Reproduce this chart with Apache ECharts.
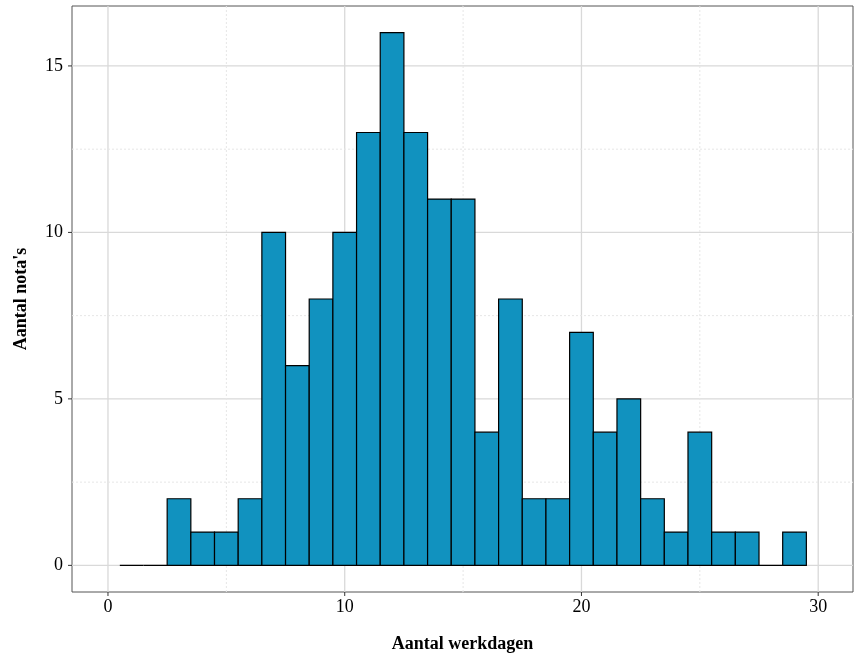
<!DOCTYPE html>
<html><head><meta charset="utf-8">
<script src="https://cdn.jsdelivr.net/npm/echarts@6/dist/echarts.min.js"></script>
<style>html,body{margin:0;padding:0;background:#fff}#c{width:864px;height:663px}</style>
</head><body><div id="c"></div>
<script>
const binCenters = [1,2,3,4,5,6,7,8,9,10,11,12,13,14,15,16,17,18,19,20,21,22,23,24,25,26,27,28,29];
const counts     = [0,0,2,1,1,2,10,6,8,10,13,16,13,11,11,4,8,2,2,7,4,5,2,1,4,1,1,0,1];
const xTicks = [0,10,20,30];
const yTicks = [0,5,10,15];
const xMinor = [5,15,25];
const yMinor = [2.5,7.5,12.5];
const binWidth = 1;

const FONT = '"Liberation Serif", "DejaVu Serif", serif';
const chart = echarts.init(document.getElementById('c'));

// kind: 0 = vertical line at x, 1 = horizontal line at y; minor flag
function gridItem(params, api) {
  const cs = params.coordSys;
  const kind = api.value(0), v = api.value(1), minor = api.value(2);
  const children = [];
  const major = {stroke:'#d9d9d9', lineWidth:1.3};
  const mnr = {stroke:'#e6e6e6', lineWidth:1, lineDash:[2,2]};
  if (kind === 0) {
    const p = api.coord([v, 0]);
    children.push({type:'line', shape:{x1:p[0], y1:cs.y, x2:p[0], y2:cs.y+cs.height}, style: minor ? mnr : major});
    if (!minor) children.push({type:'line', shape:{x1:p[0], y1:cs.y+cs.height, x2:p[0], y2:cs.y+cs.height+4}, style:{stroke:'#333', lineWidth:1}});
  } else {
    const p = api.coord([0, v]);
    children.push({type:'line', shape:{x1:cs.x, y1:p[1], x2:cs.x+cs.width, y2:p[1]}, style: minor ? mnr : major});
    if (!minor) children.push({type:'line', shape:{x1:cs.x-4, y1:p[1], x2:cs.x, y2:p[1]}, style:{stroke:'#333', lineWidth:1}});
  }
  return {type:'group', children, silent:true};
}
const gridData = [];
xTicks.forEach(v=>gridData.push([0,v,0])); yTicks.forEach(v=>gridData.push([1,v,0]));
xMinor.forEach(v=>gridData.push([0,v,1])); yMinor.forEach(v=>gridData.push([1,v,1]));

chart.setOption({
  animation:false,
  grid:{left:72, right:11, top:6, bottom:71, show:true, borderColor:'#555', borderWidth:1, backgroundColor:'#fff', containLabel:false, outerBoundsMode:'none'},
  xAxis:{type:'value', min:-1.52, max:31.47,
    name:'Aantal werkdagen', nameLocation:'middle', nameGap:43,
    nameTextStyle:{fontFamily:FONT, fontSize:18, fontWeight:'bold', color:'#000'},
    axisLine:{show:false}, splitLine:{show:false}, axisTick:{show:false},
    axisLabel:{fontFamily:FONT, fontSize:18, color:'#000', margin:6, customValues:xTicks}},
  yAxis:{type:'value', min:-0.8, max:16.8,
    name:"Aantal nota's", nameLocation:'middle', nameGap:42,
    nameTextStyle:{fontFamily:FONT, fontSize:18, fontWeight:'bold', color:'#000'},
    axisLine:{show:false}, splitLine:{show:false}, axisTick:{show:false},
    axisLabel:{fontFamily:FONT, fontSize:18, color:'#000', margin:9, customValues:yTicks}},
  series:[
    {type:'custom', data:gridData, renderItem:gridItem, z:1, silent:true, clip:false},
    {type:'custom', z:2,
     data: binCenters.map((c,i)=>[c, counts[i]]),
     renderItem:function(params, api){
       const c = api.value(0), n = api.value(1);
       const p0 = api.coord([c - binWidth/2, n]);
       const p1 = api.coord([c + binWidth/2, 0]);
       return {type:'rect', shape:{x:p0[0], y:p0[1], width:p1[0]-p0[0], height:p1[1]-p0[1]},
         style:{fill:'#1192bf', stroke:'#000', lineWidth:1.2}};
     }}
  ]
});
</script></body></html>
